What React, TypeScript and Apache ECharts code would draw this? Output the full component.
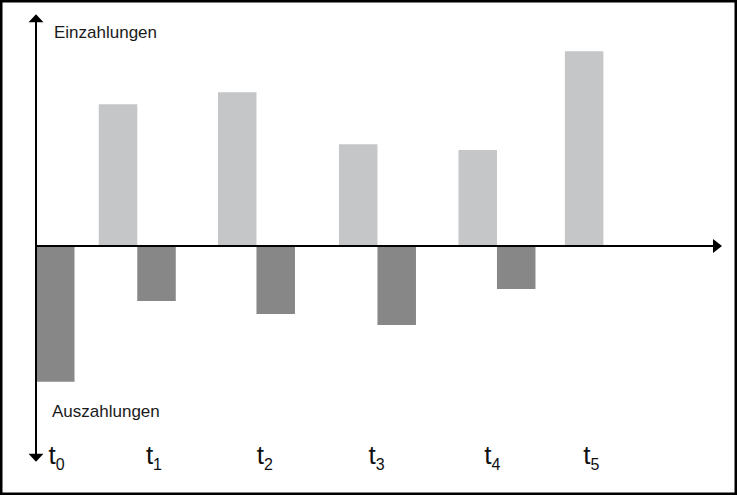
import React, { useEffect, useRef } from "react";
import * as echarts from "echarts";

// Payment dates (in periods) of each column pair
const periods = ["0", "1", "2", "3", "4", "5"];
const periodPositions = [0, 0.844, 1.8375, 2.846, 3.842, 4.729];
// Positions of the period labels t0 ... t5
const labelPositions = [0.171, 0.983, 1.908, 2.838, 3.804, 4.629];
// Cash flows
const einzahlungen: (number | null)[] = [null, 14.2, 15.4, 10.2, 9.6, 19.5];
const auszahlungen: (number | null)[] = [-13.6, -5.5, -6.8, -7.9, -4.3, null];

const toPairs = (vals: (number | null)[]) =>
  vals
    .map((v, i) => (v === null ? null : [periodPositions[i], v]))
    .filter((d) => d !== null) as number[][];

const nearestIndex = (v: number) => {
  let best = 0;
  labelPositions.forEach((p, i) => {
    if (Math.abs(p - v) < Math.abs(labelPositions[best] - v)) best = i;
  });
  return best;
};

export default function App() {
  const ref = useRef<HTMLDivElement>(null);
  useEffect(() => {
    document.body.style.margin = "0";
    const chart = echarts.init(ref.current!, null, { renderer: "svg" });
    const font = "'Liberation Sans', Arial, Helvetica, sans-serif";
    const narrow = "'Liberation Sans Narrow', 'Arial Narrow', 'Liberation Sans', Arial, sans-serif";
    const axisLine = {
      show: true,
      onZero: true,
      symbol: ["none", "triangle"],
      symbolSize: [14, 9],
      lineStyle: { color: "#000", width: 2 },
    };
    chart.setOption({
      animation: false,
      backgroundColor: "#fff",
      grid: { left: 36, right: 19.5, top: 18.3, bottom: 37.3, containLabel: false },
      xAxis: [
        {
          type: "value",
          min: 0,
          max: 5.68,
          z: 5,
          axisLine,
          axisTick: { show: false },
          axisLabel: { show: false },
          splitLine: { show: false },
        },
        {
          type: "value",
          min: 0,
          max: 5.68,
          position: "bottom",
          axisLine: { show: false, onZero: false },
          axisTick: { show: false },
          splitLine: { show: false },
          axisLabel: {
            show: true,
            customValues: labelPositions,
            margin: -15.5,
            verticalAlign: "top",
            formatter: (v: number) => `{t|t}{s|${periods[nearestIndex(v)]}}`,
            rich: {
              t: { fontFamily: narrow, fontSize: 26, lineHeight: 30, color: "#111", verticalAlign: "top" },
              s: {
                fontFamily: narrow,
                fontSize: 16,
                lineHeight: 16,
                color: "#111",
                verticalAlign: "bottom",
                padding: [17, 0, 0, 0],
              },
            },
          },
        },
      ],
      yAxis: {
        type: "value",
        min: -21.2,
        max: 22.8,
        z: 5,
        axisLine: { ...axisLine, symbol: ["triangle", "triangle"], symbolSize: [15, 8] },
        axisTick: { show: false },
        axisLabel: { show: false },
        splitLine: { show: false },
      },
      series: [
        {
          name: "Einzahlungen",
          type: "bar",
          xAxisIndex: 0,
          barWidth: 38.5,
          barGap: "0%",
          itemStyle: { color: "#c5c6c8" },
          data: toPairs(einzahlungen),
        },
        {
          name: "Auszahlungen",
          type: "bar",
          xAxisIndex: 0,
          barWidth: 38.5,
          barGap: "0%",
          itemStyle: { color: "#878787" },
          data: toPairs(auszahlungen),
        },
      ],
      graphic: [
        {
          type: "text",
          left: 54,
          top: 24,
          style: { text: "Einzahlungen", font: `17px ${font}`, fill: "#1a1a1a" },
        },
        {
          type: "text",
          left: 52,
          top: 403,
          style: { text: "Auszahlungen", font: `17px ${font}`, fill: "#1a1a1a" },
        },
        {
          type: "rect",
          shape: { x: 1.25, y: 1.25, width: 734.5, height: 492.5 },
          style: { fill: "none", stroke: "#000", lineWidth: 2.5 },
          z: 100,
        },
      ],
    });
    return () => chart.dispose();
  }, []);
  return <div ref={ref} style={{ width: 737, height: 495 }} />;
}
